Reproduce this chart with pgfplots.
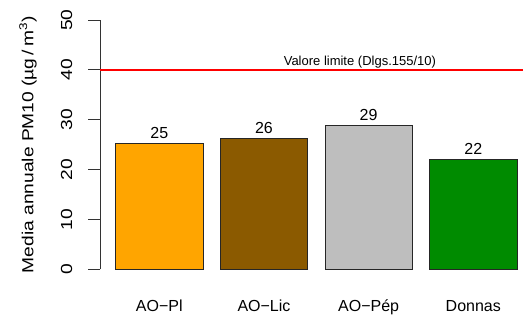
\documentclass[border=0pt]{standalone}
\usepackage{fontspec}
\setmainfont{Liberation Sans}
\usepackage{graphicx}
\usepackage{pgfplots}
\pgfplotsset{compat=1.18}
\definecolor{barorange}{HTML}{FFA500}
\definecolor{barbrown}{HTML}{8B5A00}
\definecolor{bargray}{HTML}{BEBEBE}
\definecolor{bargreen}{HTML}{008B00}
\pgfplotsset{
  mybar/.style={ybar, bar width=1, bar shift=0pt, draw=black!85, line width=0.8bp,
    nodes near coords={\pgfmathprintnumber[fixed,precision=0]{\pgfplotspointmeta}},
    every node near coord/.append style={anchor=base, inner sep=0pt, yshift=5bp, black,
      /pgf/number format/assume math mode=true}},
}
\begin{document}
\begin{tikzpicture}[font=\fontsize{16bp}{19bp}\selectfont]
\useasboundingbox (-100bp,-45.7bp) rectangle (423bp,269.3bp);
\begin{axis}[
  at={(0,0)}, anchor=south west,
  scale only axis, width=423bp, height=249.3bp,
  xmin=0.02, xmax=4.87, ymin=0, ymax=50,
  separate axis lines,
  axis y line*=left, axis x line*=bottom,
  x axis line style={draw=none},
  y axis line style={black!80, line width=0.9bp},
  xtick={0.7,1.9,3.1,4.3},
  xticklabels={AO−Pl, AO−Lic, AO−Pép, Donnas},
  major x tick style={draw=none},
  ytick={0,10,20,30,40,50},
  yticklabels={\scalebox{1.2}[1]{0},\scalebox{1.2}[1]{10},\scalebox{1.2}[1]{20},\scalebox{1.2}[1]{30},\scalebox{1.2}[1]{40},\scalebox{1.2}[1]{50}},
  tick align=outside,
  major tick length=11.5bp,
  major y tick style={black!80, line width=0.9bp},
  yticklabel style={rotate=90, anchor=south, inner sep=0pt},
  yticklabel shift=16bp,
  xticklabel style={anchor=north, inner sep=0pt},
  xticklabel shift=19bp,
  ylabel={\scalebox{1.2}[1]{Media annuale PM10 (µg\,/\,m\textsuperscript{3})}},
  ylabel style={at={(axis description cs:-0.1702,0.5)}, anchor=center, inner sep=0pt},
  clip=false,
]
\addplot[mybar, fill=barorange] coordinates {(0.7,25.3)};
\addplot[mybar, fill=barbrown] coordinates {(1.9,26.3)};
\addplot[mybar, fill=bargray] coordinates {(3.1,28.9)};
\addplot[mybar, fill=bargreen] coordinates {(4.3,22.1)};
\addplot[red, line width=1.5bp, sharp plot, forget plot] coordinates {(0.02,40) (4.87,40)};
\node[font=\fontsize{13bp}{15bp}\selectfont, anchor=base, inner sep=0pt] at (axis cs:3.0,40.9) {Valore limite (Dlgs.155/10)};
\end{axis}
\end{tikzpicture}
\end{document}
